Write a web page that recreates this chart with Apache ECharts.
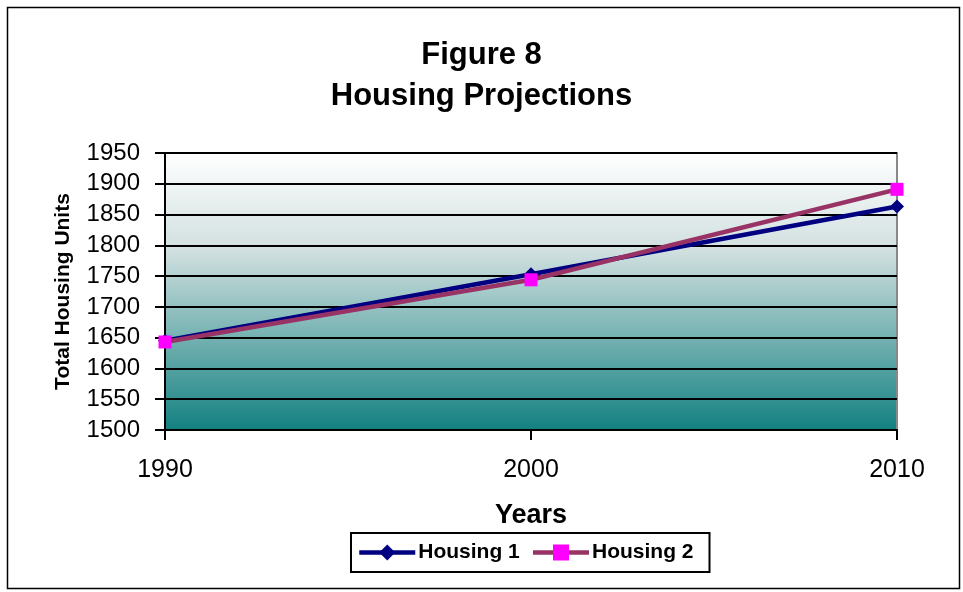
<!DOCTYPE html>
<html><head><meta charset="utf-8">
<script src="https://cdn.jsdelivr.net/npm/echarts@6/dist/echarts.min.js"></script>
<style>html,body{margin:0;padding:0;background:#fff}#c{width:963px;height:592px}</style>
</head><body><div id="c"></div>
<script>
var years = ['1990', '2000', '2010'];
var housing1 = [1645, 1753, 1863];
var housing2 = [1643, 1744, 1891];
var yTicks = [1500, 1950, 50];

var chart = echarts.init(document.getElementById('c'), null, {renderer: 'canvas'});
var font = 'Arial, "Liberation Sans", sans-serif';
chart.setOption({
  animation: false,
  backgroundColor: '#fff',
  title: {
    text: 'Figure 8\nHousing Projections',
    left: 'center', top: 30,
    textStyle: {fontFamily: font, fontWeight: 'bold', fontSize: 31, lineHeight: 41, color: '#000'}
  },
  graphic: [{
    type: 'rect', left: 5, top: 5, shape: {width: 952, height: 581},
    style: {fill: 'none', stroke: '#000', lineWidth: 1.5}, silent: true
  }],
  legend: {
    top: 533, left: 351,
    data: ['Housing 1', 'Housing 2'],
    borderColor: '#000', borderWidth: 2, padding: [9, 16, 9, 6],
    itemWidth: 56, itemHeight: 20, itemGap: 11,
    lineStyle: {width: 4.5},
    textStyle: {fontFamily: font, fontWeight: 'bold', fontSize: 21, color: '#000', padding: [0, 0, 0, -2]}
  },
  grid: {
    left: 165, right: 66, top: 153, bottom: 162,
    show: true, borderColor: '#888', borderWidth: 2,
    backgroundColor: {
      type: 'linear', x: 0, y: 0, x2: 0, y2: 1,
      colorStops: [{offset: 0, color: '#ffffff'}, {offset: 0.35, color: '#d2e0e0'}, {offset: 1, color: '#128080'}]
    }
  },
  xAxis: {
    type: 'category', data: years, boundaryGap: false,
    name: 'Years', nameLocation: 'middle', nameGap: 72,
    nameTextStyle: {fontFamily: font, fontWeight: 'bold', fontSize: 27, color: '#000'},
    axisLine: {lineStyle: {color: '#000', width: 2}},
    axisTick: {show: true, length: 10, lineStyle: {color: '#000', width: 2}, alignWithLabel: true},
    axisLabel: {fontFamily: font, fontSize: 25, color: '#000', margin: 28}
  },
  yAxis: {
    type: 'value', min: yTicks[0], max: yTicks[1], interval: yTicks[2],
    name: 'Total Housing Units', nameLocation: 'middle', nameGap: 91, nameRotate: 90,
    nameTextStyle: {fontFamily: font, fontWeight: 'bold', fontSize: 21, color: '#000'},
    axisLine: {show: true, lineStyle: {color: '#000', width: 2}},
    axisTick: {show: true, length: 10, lineStyle: {color: '#000', width: 2}},
    axisLabel: {fontFamily: font, fontSize: 24, color: '#000', margin: 25, formatter: function (v) { return String(v); }},
    splitLine: {lineStyle: {color: '#000', width: 2}}
  },
  series: [{
    name: 'Housing 1', type: 'line', data: housing1,
    symbol: 'diamond', symbolSize: 14, showAllSymbol: true,
    lineStyle: {color: '#000080', width: 4.5},
    itemStyle: {color: '#000080', borderWidth: 0}
  }, {
    name: 'Housing 2', type: 'line', data: housing2,
    symbol: 'rect', symbolSize: 13,
    lineStyle: {color: '#993366', width: 4.5},
    itemStyle: {color: '#ff00ff', borderWidth: 0}
  }]
});
</script></body></html>
